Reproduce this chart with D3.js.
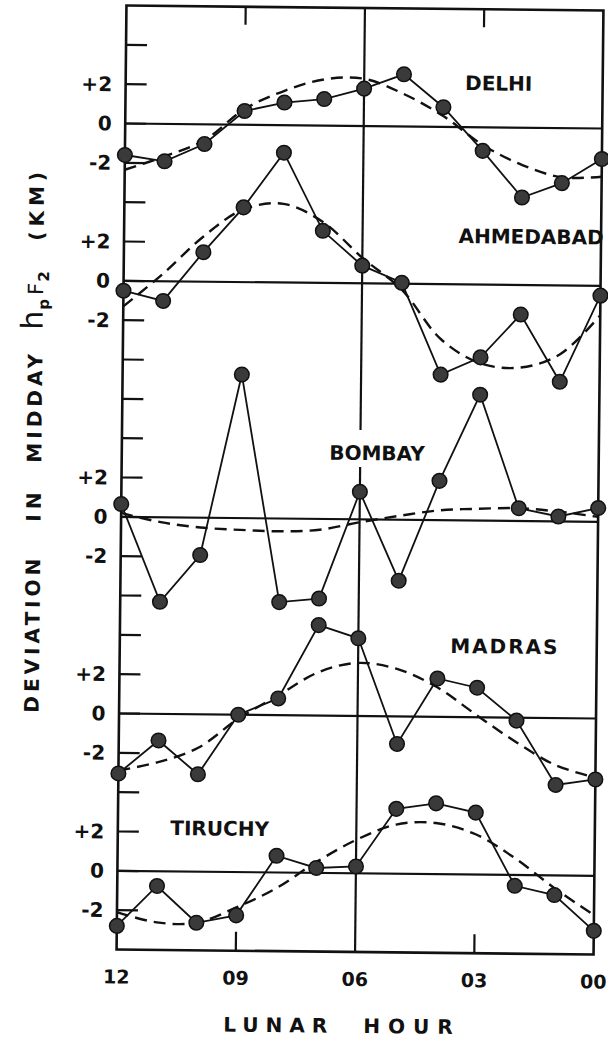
<!DOCTYPE html>
<html><head><meta charset="utf-8">
<script src="https://cdn.jsdelivr.net/npm/d3@7"></script>
<style>body{margin:0;background:#fff} svg{display:block}</style>
</head><body>
<svg id="c" width="608" height="1040"></svg>
<script>
// ---- data ----
const hours = [12,11,10,9,8,7,6,5,4,3,2,1,0];
const stations = ["DELHI","AHMEDABAD","BOMBAY","MADRAS","TIRUCHY"];
const delhiObs  = [-1.6,-1.9,-1.0,0.7,1.15,1.35,1.9,2.65,1.0,-1.2,-3.55,-2.8,-1.55];
const delhiFit  = [-2.35,-1.65,-0.8,0.8,1.75,2.35,2.4,1.65,0.55,-0.9,-1.9,-2.5,-2.45];
const ahmObs    = [-0.5,-1.0,1.5,3.8,6.6,2.65,0.9,0.05,-4.6,-3.7,-1.5,-4.9,-0.5];
const ahmFit    = [-1.3,0.4,2.3,3.7,4.0,3.1,1.3,-0.3,-2.8,-4.0,-4.2,-3.5,-1.5];
const bomObs    = [0.65,-4.3,-1.9,7.3,-4.25,-4.05,1.4,-3.1,2.0,6.4,0.65,0.25,0.7];
const bomFit    = [0.2,-0.25,-0.5,-0.6,-0.65,-0.55,-0.15,0.2,0.5,0.6,0.65,0.5,0.25];
const madObs    = [-3.05,-1.35,-3.05,0.0,0.85,4.6,3.95,-1.4,1.95,1.5,-0.15,-3.4,-3.1];
const madFit    = [-2.9,-2.45,-1.7,-0.2,1.0,2.2,2.7,2.4,1.5,0.1,-1.25,-2.4,-3.0];
const triObs    = [-2.8,-0.75,-2.6,-2.2,0.85,0.25,0.35,3.3,3.6,3.15,-0.55,-1.0,-2.8];
const triFit    = [-2.1,-2.6,-2.6,-1.8,-0.8,0.55,1.7,2.5,2.6,2.05,0.85,-0.65,-2.0];
const xTickHours  = [12,9,6,3,0];
const xTickLabels = ["12","09","06","03","00"];
const yTickValues = [2,0,-2];
const yTickLabels = ["+2","0","-2"];
const xTitleWords = ["LUNAR","HOUR"];
const yTitleWords = ["DEVIATION","IN","MIDDAY","(KM)"];

// ---- layout ----
const obsSeries = [delhiObs, ahmObs, bomObs, madObs, triObs];
const fitSeries = [delhiFit, ahmFit, bomFit, madFit, triFit];
const zeroUnits = [6,14,26,36,44];
const labelPos = [[461,89],[456,242],[329,460],[452,652],[174,837]];
const L=121.5, R=598.5, T=8, B=952;
const FONT = "'DejaVu Sans', sans-serif";

const svg = d3.select("#c");
const g = svg.append("g").attr("transform","rotate(0.6,360,480)");
const x = d3.scaleLinear().domain([12,0]).range([L,R]);
const u = d3.scaleLinear().domain([0,48]).range([T,B]);

// frame
g.append("rect").attr("x",L).attr("y",T).attr("width",R-L).attr("height",B-T)
  .attr("fill","none").attr("stroke","#111").attr("stroke-width",2.6);

// left ticks every 2 units
g.selectAll("line.lt").data(d3.range(2,48,2)).join("line")
  .attr("x1",L).attr("x2",L+21).attr("y1",d=>u(d)).attr("y2",d=>u(d))
  .attr("stroke","#111").attr("stroke-width",2.2);
// top & bottom ticks at 09 and 03
[9,3].forEach(h=>{
  g.append("line").attr("x1",x(h)).attr("x2",x(h)).attr("y1",T).attr("y2",T+18)
    .attr("stroke","#111").attr("stroke-width",2.2);
  g.append("line").attr("x1",x(h)).attr("x2",x(h)).attr("y1",B-19).attr("y2",B)
    .attr("stroke","#111").attr("stroke-width",2.2);
});
// vertical 06 line with gap at BOMBAY
g.append("line").attr("x1",x(6)).attr("x2",x(6)).attr("y1",T).attr("y2",430)
  .attr("stroke","#111").attr("stroke-width",2.2);
g.append("line").attr("x1",x(6)).attr("x2",x(6)).attr("y1",467).attr("y2",B)
  .attr("stroke","#111").attr("stroke-width",2.2);

// zero lines
g.selectAll("line.zl").data(zeroUnits).join("line")
  .attr("x1",L).attr("x2",R).attr("y1",d=>u(d)).attr("y2",d=>u(d))
  .attr("stroke","#111").attr("stroke-width",2.2);

// y tick labels
zeroUnits.forEach(z=>{
  yTickValues.forEach((v,i)=>{
    g.append("text").attr("x",108).attr("y",u(z-v)+7)
      .attr("text-anchor","end").attr("font-family",FONT).attr("font-weight","bold")
      .attr("font-size",20).attr("fill","#111").text(yTickLabels[i]);
  });
});

// series
stations.forEach((s,k)=>{
  const z = zeroUnits[k];
  const fy = v => u(z - v);
  const fit = hours.map((h,i)=>[x(h), fy(fitSeries[k][i])]);
  const obs = hours.map((h,i)=>[x(h), fy(obsSeries[k][i])]);
  g.append("path").attr("d", d3.line().curve(d3.curveCatmullRom.alpha(0.5))(fit))
    .attr("fill","none").attr("stroke","#111").attr("stroke-width",2.4)
    .attr("stroke-dasharray","12,7");
  g.append("path").attr("d", d3.line()(obs))
    .attr("fill","none").attr("stroke","#111").attr("stroke-width",1.8);
  g.selectAll(null).data(obs).join("circle")
    .attr("cx",d=>d[0]).attr("cy",d=>d[1]).attr("r",7.3)
    .attr("fill","#3a3a3a").attr("stroke","#111").attr("stroke-width",1.5);
  g.append("text").attr("x",labelPos[k][0]).attr("y",labelPos[k][1])
    .attr("font-family",FONT).attr("font-weight","bold").attr("font-size",20)
    .attr("letter-spacing", k===3?2:0).attr("fill","#111").text(s);
});

// x tick labels
xTickHours.forEach((h,i)=>{
  g.append("text").attr("x",x(h)).attr("y",986).attr("text-anchor","middle")
    .attr("font-family",FONT).attr("font-weight","bold").attr("font-size",19)
    .attr("fill","#111").text(xTickLabels[i]);
});
// x title words
[[229,7],[369,8]].forEach((p,i)=>{
  g.append("text").attr("x",p[0]).attr("y",1033)
    .attr("letter-spacing",p[1])
    .attr("font-family",FONT).attr("font-weight","bold").attr("font-size",20)
    .attr("fill","#111").text(xTitleWords[i]);
});

// y title pieces (rotated, reading upward): [start y, letter-spacing]
const yPieces = [[716,4],[525,5],[466,4],[244,5]];
yPieces.forEach((p,i)=>{
  g.append("text").attr("transform",`translate(41,${p[0]}) rotate(-90)`)
    .attr("letter-spacing",p[1])
    .attr("font-family",FONT).attr("font-weight","bold").attr("font-size",20)
    .attr("fill","#111").text(yTitleWords[i]);
});
const hp = g.append("text").attr("transform","translate(41,333) rotate(-90)")
  .attr("font-family",FONT).attr("fill","#111").attr("font-size",20);
hp.append("tspan").attr("font-size",30).attr("font-weight","normal").text("h");
hp.append("tspan").attr("font-size",15).attr("font-weight","bold").attr("dy",6).attr("dx",1).text("p");
hp.append("tspan").attr("dy",-6).attr("dx",4).attr("font-size",21).text("F");
hp.append("tspan").attr("font-size",15).attr("font-weight","bold").attr("dy",6).attr("dx",1).text("2");
</script>
</body></html>
